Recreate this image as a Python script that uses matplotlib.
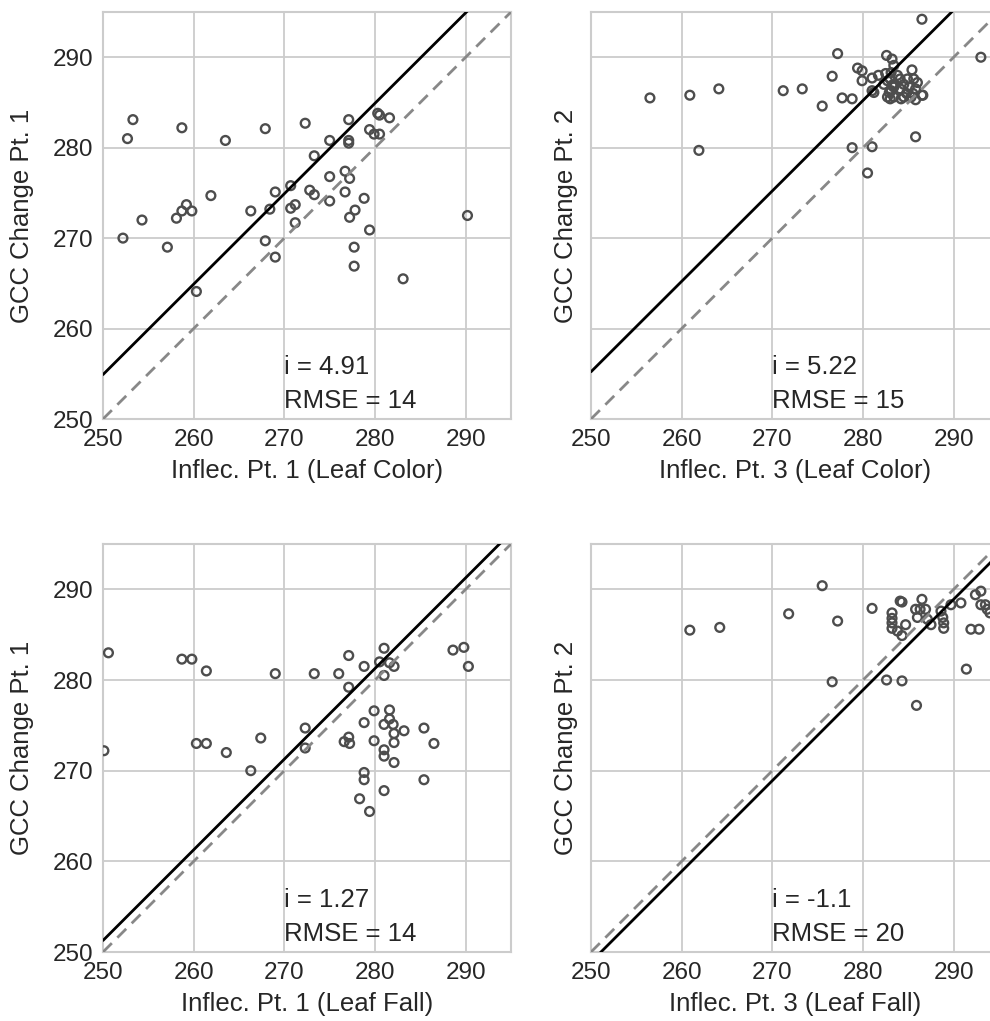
import matplotlib
matplotlib.use("Agg")
import matplotlib.pyplot as plt
import numpy as np
import seaborn as sns

sns.set_style("whitegrid")
plt.rcParams["font.family"] = ["Liberation Sans", "DejaVu Sans"]

# Leaf colour, inflection point 1 vs GCC change point 1
color_pt1_x = [253.3, 252.7, 258.7, 263.5, 267.9, 272.3, 277.1, 280.5, 280.3, 281.6,
               279.4, 280.5, 279.9, 275.0, 277.1, 277.1, 273.3, 275.0, 276.7, 277.2,
               276.7, 272.8, 273.3, 275.0, 278.8, 270.7, 269.0, 268.4, 270.7, 271.2,
               271.2, 266.3, 261.9, 259.2, 258.7, 259.8, 258.1, 254.3, 252.2, 257.1,
               267.9, 269.0, 260.3, 277.8, 277.2, 279.4, 277.7, 277.7, 283.1, 290.2]
color_pt1_y = [283.1, 281.0, 282.2, 280.8, 282.1, 282.7, 283.1, 283.6, 283.8, 283.3,
               282.0, 281.5, 281.5, 280.8, 280.8, 280.5, 279.1, 276.8, 277.4, 276.6,
               275.1, 275.3, 274.8, 274.1, 274.4, 275.8, 275.1, 273.2, 273.3, 273.7,
               271.7, 273.0, 274.7, 273.7, 273.0, 273.0, 272.2, 272.0, 270.0, 269.0,
               269.7, 267.9, 264.1, 273.1, 272.3, 270.9, 269.0, 266.9, 265.5, 272.5]

# Leaf colour, inflection point 3 vs GCC change point 2
color_pt3_x = [256.5, 260.9, 264.1, 261.9, 271.2, 273.3, 275.5, 276.6, 277.2, 277.7,
               278.8, 279.4, 279.9, 279.9, 281.0, 281.0, 278.8, 281.0, 280.5, 286.5,
               293.0, 285.8, 282.6, 283.2, 283.4, 285.4, 281.7, 282.5, 283.0, 284.1,
               284.9, 285.6, 286.0, 283.4, 284.1, 285.1, 285.8, 281.2, 282.9, 283.4,
               284.5, 285.3, 286.5, 284.2, 285.8, 283.1, 282.7, 283.1, 282.7, 286.6,
               283.2, 283.5, 284.5, 282.3, 283.8, 284.8, 283.0, 285.5]
color_pt3_y = [285.5, 285.8, 286.5, 279.7, 286.3, 286.5, 284.6, 287.9, 290.4, 285.5,
               285.4, 288.8, 288.5, 287.4, 287.7, 286.3, 280.0, 280.1, 277.2, 294.2,
               290.0, 281.2, 290.2, 289.8, 289.1, 288.6, 288.0, 288.2, 287.6, 287.6,
               287.6, 287.6, 287.2, 286.7, 286.5, 286.7, 286.5, 286.1, 286.1, 285.6,
               285.6, 285.6, 285.8, 285.4, 285.3, 288.3, 287.4, 286.3, 285.6, 285.8,
               286.9, 287.0, 287.0, 287.0, 288.0, 286.0, 285.4, 286.0]

# Leaf fall, inflection point 1 vs GCC change point 1
fall_pt1_x = [250.6, 250.1, 258.7, 259.8, 261.4, 269.0, 273.3, 276.0, 277.1, 278.8,
              281.0, 280.5, 281.6, 282.1, 281.0, 277.1, 288.6, 289.8, 290.3, 260.3,
              261.4, 263.6, 267.4, 266.3, 272.3, 272.3, 276.6, 277.1, 277.2, 279.9,
              278.8, 281.6, 281.6, 281.0, 282.0, 282.1, 283.2, 279.9, 282.1, 281.0,
              281.0, 282.1, 285.4, 286.5, 278.8, 278.8, 281.0, 278.3, 279.4, 285.4]
fall_pt1_y = [283.0, 272.2, 282.3, 282.3, 281.0, 280.7, 280.7, 280.7, 282.7, 281.5,
              283.5, 282.0, 281.9, 281.5, 280.5, 279.2, 283.3, 283.6, 281.5, 273.0,
              273.0, 272.0, 273.6, 270.0, 274.7, 272.5, 273.2, 273.7, 273.0, 276.6,
              275.3, 276.7, 275.7, 275.1, 275.1, 274.1, 274.4, 273.3, 273.1, 272.3,
              271.6, 270.9, 274.7, 273.0, 269.8, 269.0, 267.8, 266.9, 265.5, 269.0]

# Leaf fall, inflection point 3 vs GCC change point 2
fall_pt3_x = [260.9, 264.2, 271.8, 275.5, 277.2, 276.6, 281.0, 284.3, 282.6, 284.3,
              285.9, 291.4, 283.2, 283.2, 283.2, 283.2, 284.1, 283.8, 284.7, 285.8,
              286.3, 286.9, 286.5, 286.0, 287.1, 287.5, 288.6, 288.8, 288.9, 288.9,
              289.7, 290.8, 291.9, 292.8, 292.4, 293.0, 293.0, 293.5, 293.7, 294.0,
              284.3]
fall_pt3_y = [285.5, 285.8, 287.3, 290.4, 286.5, 279.8, 287.9, 288.6, 280.0, 279.9,
              277.2, 281.2, 287.4, 286.8, 286.3, 285.7, 288.7, 285.4, 286.1, 287.8,
              287.8, 287.8, 288.9, 286.9, 286.7, 286.1, 287.6, 286.9, 286.3, 285.7,
              288.3, 288.5, 285.6, 285.6, 289.4, 289.8, 288.3, 288.3, 287.8, 287.4,
              284.9]

intercepts = [4.91, 5.22, 1.27, -1.1]
rmse_values = [14, 15, 14, 20]
x_labels = ["Inflec. Pt. 1 (Leaf Color)", "Inflec. Pt. 3 (Leaf Color)",
            "Inflec. Pt. 1 (Leaf Fall)", "Inflec. Pt. 3 (Leaf Fall)"]
y_labels = ["GCC Change Pt. 1", "GCC Change Pt. 2",
            "GCC Change Pt. 1", "GCC Change Pt. 2"]
ticks = [250, 260, 270, 280, 290]

panels = [(color_pt1_x, color_pt1_y), (color_pt3_x, color_pt3_y),
          (fall_pt1_x, fall_pt1_y), (fall_pt3_x, fall_pt3_y)]

W, H = 990, 1021
fig = plt.figure(figsize=(W / 100, H / 100), dpi=100)

# axes boxes in pixels: left, top, width, height
boxes = [(103, 12, 408, 407), (591, 12, 408, 407),
         (103, 544, 408, 408), (591, 544, 408, 408)]

lims = np.array([250.0, 295.0])
for k, ((xs, ys), (l, t, w, h)) in enumerate(zip(panels, boxes)):
    ax = fig.add_axes([l / W, (H - t - h) / H, w / W, h / H])
    ax.scatter(xs, ys, s=40, facecolors="none", edgecolors="#4d4d4d",
               linewidths=1.7, zorder=3)
    ax.plot(lims, lims + intercepts[k], color="black", lw=2.0, zorder=4)
    ax.plot(lims, lims, linestyle=(0, (4.5, 2.8)), color="#888888", lw=2.0,
            zorder=4)
    ax.set_xlim(*lims)
    ax.set_ylim(*lims)
    ax.set_xticks(ticks)
    ax.set_yticks(ticks)
    ax.grid(True, color="#cccccc", lw=1.3)
    for sp in ax.spines.values():
        sp.set_color("#cccccc")
        sp.set_linewidth(1.5)
    ax.tick_params(labelsize=17.5, colors="#262626", pad=7, length=0)
    ax.set_xlabel(x_labels[k], fontsize=18.5, color="#262626", labelpad=6)
    ax.set_ylabel(y_labels[k], fontsize=18.5, color="#262626")
    if k % 2 == 1:
        ax.tick_params(labelleft=False)
        ax.yaxis.set_label_coords(-0.032, 0.5)
    else:
        ax.yaxis.set_label_coords(-0.168, 0.5)
    ax.text(270, 255.0, f"i = {intercepts[k]}", fontsize=18.5, color="#262626",
            zorder=5)
    ax.text(270, 251.2, f"RMSE = {rmse_values[k]}", fontsize=18.5,
            color="#262626", zorder=5)

fig.savefig("out.png", dpi=100)
